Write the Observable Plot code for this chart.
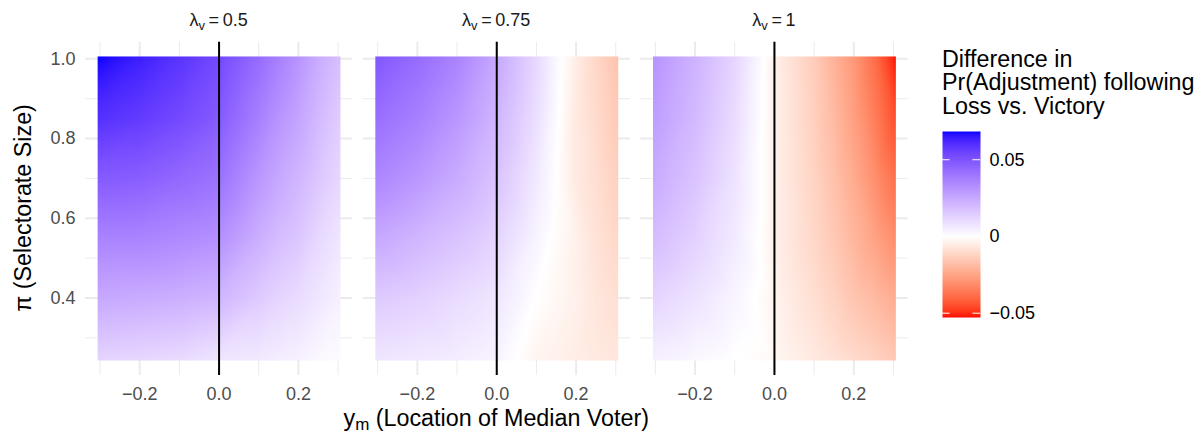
<!DOCTYPE html>
<html><head><meta charset="utf-8">
<script src="https://cdn.jsdelivr.net/npm/d3@7"></script>
<script src="https://cdn.jsdelivr.net/npm/@observablehq/plot@0.6"></script>
<style>
body{margin:0;background:#fff;font-family:"Liberation Sans",Arial,Helvetica,sans-serif;}
#wrap{position:relative;width:1202px;height:435px;overflow:hidden;}
#main{position:absolute;left:0;top:0;}
#legend-title{position:absolute;left:942px;top:47.5px;font-size:23.3px;line-height:23.5px;color:#000;white-space:nowrap;}
#legend-bar{position:absolute;left:930px;top:120px;}
</style></head><body>
<div id="wrap"><div id="main"></div>
<div id="legend-title">Difference in<br>Pr(Adjustment) following<br>Loss vs. Victory</div>
<div id="legend-bar"></div></div>
<script>
// ---- data (grid ends sit on the tile edges) ----
const lambdas = [0.5, 0.75, 1];
const ymGrid = [-0.306, -0.2, -0.1, 0, 0.1, 0.15, 0.2, 0.25, 0.306];
const piGrid = [1.006, 0.85, 0.7, 0.55, 0.4, 0.243];
const diffLambda050 = [
  [0.0684, 0.064, 0.059, 0.053, 0.043, 0.037, 0.031, 0.024, 0.018],
  [0.060, 0.057, 0.053, 0.048, 0.037, 0.031, 0.026, 0.020, 0.014],
  [0.048, 0.047, 0.044, 0.041, 0.030, 0.025, 0.021, 0.016, 0.011],
  [0.036, 0.036, 0.034, 0.032, 0.023, 0.019, 0.016, 0.011, 0.007],
  [0.025, 0.024, 0.023, 0.021, 0.015, 0.012, 0.010, 0.007, 0.004],
  [0.012, 0.011, 0.010, 0.007, 0.006, 0.005, 0.004, 0.002, 0.001]
];
const diffLambda075 = [
  [0.049, 0.043, 0.036, 0.025, 0.011, 0.002, -0.005, -0.011, -0.017],
  [0.042, 0.037, 0.030, 0.021, 0.009, 0.001, -0.006, -0.010, -0.015],
  [0.035, 0.030, 0.024, 0.017, 0.006, 0.000, -0.006, -0.009, -0.013],
  [0.025, 0.021, 0.017, 0.012, 0.003, -0.001, -0.004, -0.008, -0.011],
  [0.015, 0.013, 0.010, 0.007, 0.000, -0.002, -0.004, -0.007, -0.009],
  [0.007, 0.006, 0.005, 0.003, -0.003, -0.004, -0.005, -0.006, -0.007]
];
const diffLambda100 = [
  [0.031, 0.022, 0.012, -0.004, -0.014, -0.021, -0.028, -0.038, -0.0528],
  [0.028, 0.020, 0.010, -0.004, -0.013, -0.019, -0.026, -0.034, -0.045],
  [0.024, 0.017, 0.008, -0.004, -0.012, -0.017, -0.023, -0.030, -0.038],
  [0.019, 0.013, 0.006, -0.004, -0.011, -0.015, -0.020, -0.025, -0.031],
  [0.012, 0.008, 0.003, -0.003, -0.009, -0.012, -0.016, -0.019, -0.023],
  [0.004, 0.002, 0.000, -0.002, -0.006, -0.008, -0.010, -0.012, -0.015]
];
const diffMin = -0.0528, diffMax = 0.0684;
const majorX = [-0.2, 0, 0.2];
const minorX = [-0.3, -0.1, 0.1, 0.3];
const majorY = [0.4, 0.6, 0.8, 1.0];
const minorY = [0.3, 0.5, 0.7, 0.9];
const legendTicks = [-0.05, 0, 0.05];

// ---- build table ----
const tables = [diffLambda050, diffLambda075, diffLambda100];
const points = [];
lambdas.forEach((lam, k) => piGrid.forEach((p, i) => ymGrid.forEach((x, j) =>
  points.push({lambda: lam, ym: x, pi: p, diff: tables[k][i][j]}))));

const FONT = '"Liberation Sans", Arial, Helvetica, sans-serif';
const colorScale = {type: "linear", domain: [diffMin, 0, diffMax],
  range: ["#ff0000", "#ffffff", "#0000ff"], interpolate: d3.interpolateLab, clamp: true};
const grid = "#ebebeb";
const TITLE = 23.3;

const plot = Plot.plot({
  width: 930, height: 435,
  marginLeft: 85, marginRight: 22.5, marginTop: 41.7, marginBottom: 60,
  style: {fontFamily: FONT, fontSize: "18px", color: "#4d4d4d", background: "white"},
  fx: {domain: lambdas, paddingInner: 0.038, paddingOuter: 0, round: false, axis: null},
  x: {domain: [-0.3366, 0.3366]},
  y: {domain: [0.2054, 1.0418]},
  color: colorScale,
  marks: [
    Plot.gridX(minorX, {stroke: grid, strokeOpacity: 1, strokeWidth: 1}),
    Plot.gridX(majorX, {stroke: grid, strokeOpacity: 1, strokeWidth: 2}),
    Plot.gridY(minorY, {stroke: grid, strokeOpacity: 1, strokeWidth: 1}),
    Plot.gridY(majorY, {stroke: grid, strokeOpacity: 1, strokeWidth: 2}),
    Plot.raster(points, {x: "ym", y: "pi", fill: "diff", fx: "lambda",
      x1: ymGrid[0], x2: ymGrid[ymGrid.length - 1], y1: piGrid[piGrid.length - 1], y2: piGrid[0],
      interpolate: "barycentric", pixelSize: 1}),
    Plot.ruleX([0], {stroke: "black", strokeWidth: 2}),
    Plot.axisX(majorX, {tickSize: 0, tickPadding: 12, tickFormat: d3.format(".1f"), label: null, fontSize: 18}),
    Plot.axisY(majorY, {tickSize: 0, tickPadding: 10, tickFormat: d3.format(".1f"), label: null, fontSize: 18})
  ]
});
document.getElementById("main").appendChild(plot);

// facet titles and axis titles with subscripts
const svg = d3.select(plot);
const fx = plot.scale("fx");
lambdas.forEach(lam => {
  const cx = fx.apply(lam) + fx.bandwidth / 2;
  const t = svg.append("text").attr("x", cx).attr("y", 26).attr("text-anchor", "middle")
    .attr("font-family", FONT).attr("font-size", 18).attr("fill", "#1a1a1a");
  t.append("tspan").text("λ");
  t.append("tspan").attr("font-size", 13).attr("dy", 4).text("v");
  t.append("tspan").attr("dy", -4).text("\u2009=\u2009" + lam);
});
const x0 = fx.apply(lambdas[0]);
const x1 = fx.apply(lambdas[lambdas.length - 1]) + fx.bandwidth;
const xt = svg.append("text").attr("x", (x0 + x1) / 2).attr("y", 426).attr("text-anchor", "middle")
  .attr("font-family", FONT).attr("font-size", TITLE).attr("fill", "#000");
xt.append("tspan").text("y");
xt.append("tspan").attr("font-size", 17).attr("dy", 4).text("m");
xt.append("tspan").attr("dy", -4).text(" (Location of Median Voter)");
svg.append("text").attr("transform", "translate(31,208) rotate(-90)").attr("text-anchor", "middle")
  .attr("font-family", FONT).attr("font-size", TITLE).attr("fill", "#000")
  .text("π (Selectorate Size)");

// legend colour bar
const legend = Plot.plot({
  width: 120, height: 210, marginLeft: 12, marginRight: 70, marginTop: 11, marginBottom: 13,
  style: {fontFamily: FONT, fontSize: "18px", color: "black", background: "transparent"},
  x: {domain: [0, 1], axis: null},
  y: {domain: [diffMin, diffMax], axis: null},
  color: colorScale,
  marks: [
    Plot.raster({x1: 0, x2: 1, y1: diffMin, y2: diffMax, fill: (x, y) => y, pixelSize: 1}),
    Plot.ruleY(legendTicks, {x1: 0, x2: 0.2, stroke: "white", strokeWidth: 1}),
    Plot.ruleY(legendTicks, {x1: 0.8, x2: 1, stroke: "white", strokeWidth: 1}),
    Plot.text(legendTicks, {x: 1, y: d => d, dx: 9, textAnchor: "start", text: d3.format(".2~f"), fill: "black", fontSize: 18})
  ]
});
document.getElementById("legend-bar").appendChild(legend);
</script>
</body></html>
